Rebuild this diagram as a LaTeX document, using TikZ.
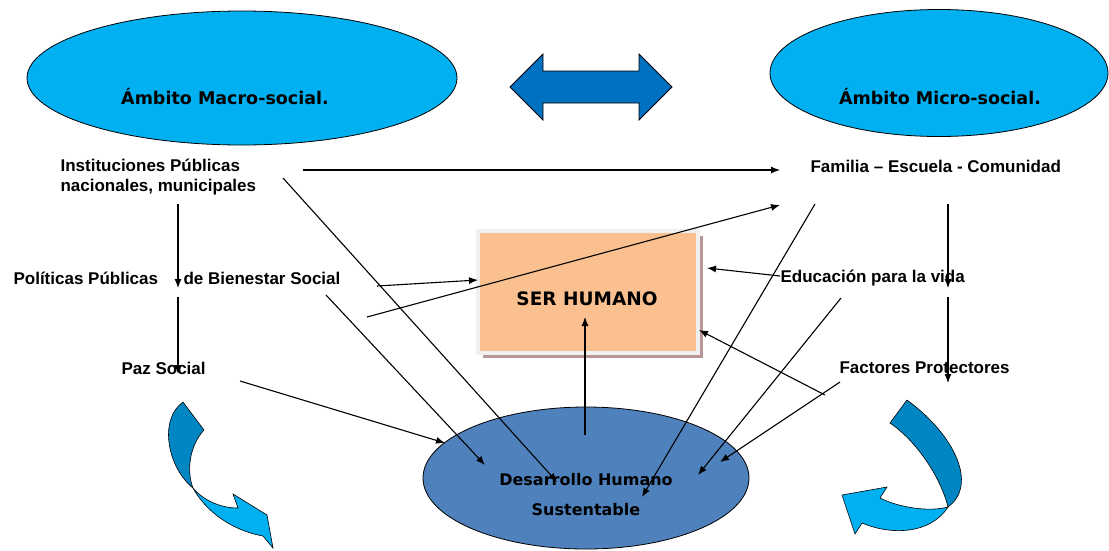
\documentclass[tikz,border=0pt]{standalone}
\usepackage{fontspec}
\setmainfont{Liberation Sans}
\newfontfamily\comicfont{DejaVu Sans}
\usetikzlibrary{shapes,arrows.meta,shadows}
\usepackage{xcolor}

\definecolor{skyfill}{RGB}{0,176,240}
\definecolor{ribdark}{RGB}{0,134,194}
\definecolor{swapblue}{RGB}{0,112,192}
\definecolor{desfill}{RGB}{79,129,189}
\definecolor{serfill}{RGB}{250,192,143}
\definecolor{shadowc}{RGB}{185,150,150}

\begin{document}
\begin{tikzpicture}[x=1pt, y=-1pt, line width=1.1pt, >={Latex[length=9pt,width=7pt]},
    txt/.style={font=\bfseries\fontsize{17}{20}\selectfont, inner sep=0pt, anchor=west},
    comic/.style={font=\comicfont\bfseries\fontsize{17.5}{30}\selectfont, inner sep=0pt},
    ribbon/.style={draw=black, line width=0.6pt}]
    \useasboundingbox (0,0) rectangle (1109,550);

    % ambitos
    \node[ellipse, draw, line width=0.8pt, fill=skyfill, minimum width=430pt, minimum height=134pt] (macro) at (242,78) {};
    \node[ellipse, draw, line width=0.8pt, fill=skyfill, minimum width=338pt, minimum height=127pt] (micro) at (939,73) {};
    \node[comic] (macrot) at (225,97) {Ámbito Macro-social.};
    \node[comic] (microt) at (940,97) {Ámbito Micro-social.};
    \filldraw[fill=swapblue, line width=0.8pt] (510,87) -- (543,54) -- (543,71) -- (639,71) -- (639,54) -- (672,87)
        -- (639,120) -- (639,103) -- (543,103) -- (543,120) -- cycle;

    % centro
    \node[draw=black!6, line width=4pt, fill=serfill, minimum width=220pt, minimum height=122pt,
        drop shadow={shadow xshift=5pt, shadow yshift=-5pt, fill=shadowc, opacity=1}] (ser) at (588,292) {};
    \node[comic, font=\comicfont\bfseries\fontsize{18.5}{22}\selectfont] (sert) at (587,299) {SER HUMANO};
    \node[ellipse, draw, line width=0.8pt, fill=desfill, minimum width=326pt, minimum height=142pt] (des) at (586,478) {};
    \node[comic, align=center, font=\comicfont\bfseries\fontsize{16}{30}\selectfont] (dest) at (586,495) {Desarrollo Humano\\Sustentable};

    % flechas curvas
    \filldraw[ribbon, fill=ribdark] (183,402) -- (204,430) .. controls (190,445) and (186,470) .. (193,488)
        .. controls (168,468) and (158,420) .. (183,402) -- cycle;
    \filldraw[ribbon, fill=skyfill] (193,488) .. controls (203,500) and (220,508) .. (238,508) -- (233,494) -- (267,515)
        -- (273,548) -- (263,536) .. controls (230,530) and (205,510) .. (193,488) -- cycle;
    \filldraw[ribbon, fill=ribdark] (907,400) .. controls (955,435) and (978,485) .. (948,507)
        .. controls (940,475) and (915,440) .. (890,423) -- cycle;
    \filldraw[ribbon, fill=skyfill] (948,507) .. controls (930,535) and (890,535) .. (862,523) -- (855,534) -- (842,495)
        -- (887,487) -- (880,498) .. controls (900,508) and (930,512) .. (948,507) -- cycle;

    % textos
    \node[txt, align=left] (inst) at (60,177) {Instituciones Públicas\\nacionales, municipales};
    \node[txt] (fam) at (810,166) {Familia – Escuela - Comunidad};
    \node[txt] (pol) at (13,278) {Políticas Públicas};
    \node[txt] (bien) at (183,278) {de Bienestar Social};
    \node[txt] (paz) at (121,368) {Paz Social};
    \node[txt] (edu) at (780,278) {Educación para la vida};
    \node[txt] (fac) at (839,368) {Factores Protectores};

    % extremos de las flechas
    \coordinate (instR) at (303,170); \coordinate (famL) at (780,170);
    \coordinate (instD) at (178,204); \coordinate (polU) at (178,288);
    \coordinate (polD) at (178,297); \coordinate (pazU) at (178,374);
    \coordinate (famD) at (948,204); \coordinate (eduU) at (948,288);
    \coordinate (eduD) at (948,297); \coordinate (facU) at (948,383);
    \coordinate (instS) at (283,178); \coordinate (desA) at (557,482);
    \coordinate (bienR) at (377,286); \coordinate (serL) at (478,280);
    \coordinate (bienU) at (367,317); \coordinate (famB) at (780,205);
    \coordinate (bienS) at (326,295); \coordinate (desB) at (485,465);
    \coordinate (pazR) at (240,381); \coordinate (desC) at (445,443);
    \coordinate (desU) at (585,435); \coordinate (serB) at (585,317);
    \coordinate (eduL) at (780,276); \coordinate (serR) at (707,268);
    \coordinate (famS) at (815,204); \coordinate (desD) at (642,497);
    \coordinate (eduS) at (841,298); \coordinate (desE) at (698,475);
    \coordinate (facS) at (840,382); \coordinate (desF) at (720,462);
    \coordinate (facL) at (825,395); \coordinate (serC) at (699,330);

    \draw[->] (instR) -- (famL);
    \draw[->] (instD) -- (polU);
    \draw[->] (polD) -- (pazU);
    \draw[->] (famD) -- (eduU);
    \draw[->] (eduD) -- (facU);
    \draw[->] (instS) -- (desA);
    \draw[->] (bienR) -- (serL);
    \draw[->] (bienU) -- (famB);
    \draw[->] (bienS) -- (desB);
    \draw[->] (pazR) -- (desC);
    \draw[->] (desU) -- (serB);
    \draw[->] (eduL) -- (serR);
    \draw[->] (famS) -- (desD);
    \draw[->] (eduS) -- (desE);
    \draw[->] (facS) -- (desF);
    \draw[->] (facL) -- (serC);
\end{tikzpicture}
\end{document}
